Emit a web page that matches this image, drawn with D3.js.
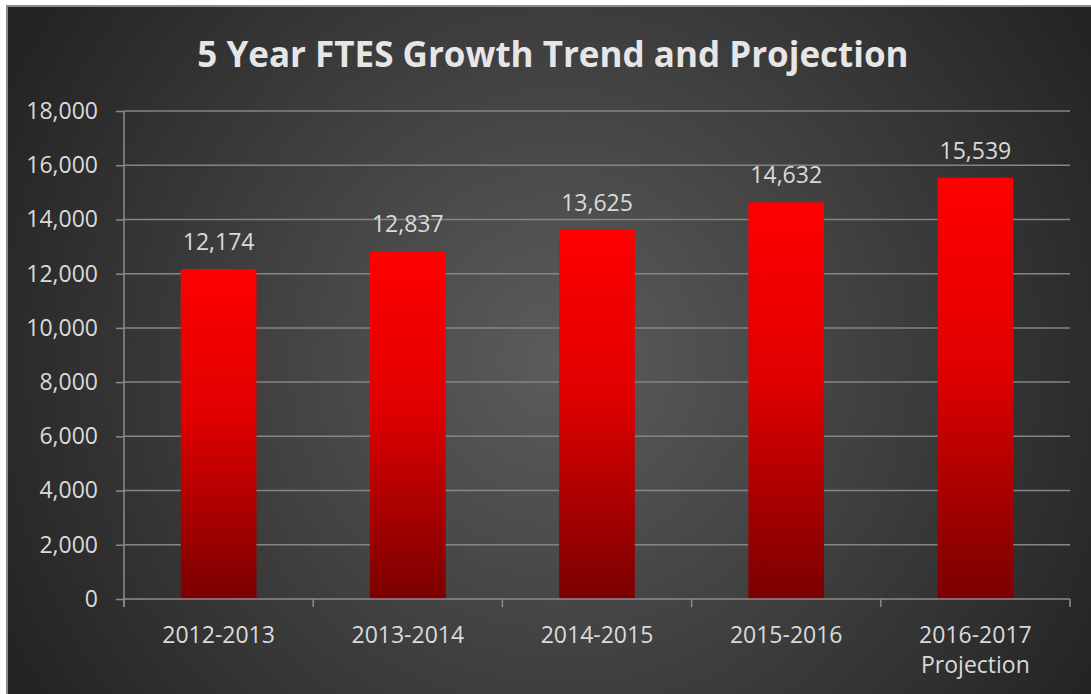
<!DOCTYPE html>
<html>
<head>
<meta charset="utf-8">
<script src="https://cdn.jsdelivr.net/npm/d3@7"></script>
<style>
  body { margin: 0; background: #fff; }
  svg { display: block; }
</style>
</head>
<body>
<div id="chart"></div>
<script>
// data
const categories = ['2012-2013', '2013-2014', '2014-2015', '2015-2016', '2016-2017\nProjection'];
const ftes = [12174, 12837, 13625, 14632, 15539];
const yTicks = [0, 2000, 4000, 6000, 8000, 10000, 12000, 14000, 16000, 18000];
const title = '5 Year FTES Growth Trend and Projection';

const width = 1091, height = 694;
const margin = {top: 111, right: 21, bottom: 95, left: 124};
const innerW = width - margin.left - margin.right,
      innerH = height - margin.top - margin.bottom;
const fontFam = '"Open Sans", sans-serif';

const svg = d3.select('#chart').append('svg')
  .attr('width', width)
  .attr('height', height);

const defs = svg.append('defs');

// dark background, lighter toward the middle
const bg = defs.append('radialGradient')
  .attr('id', 'bg')
  .attr('gradientUnits', 'userSpaceOnUse')
  .attr('cx', 560).attr('cy', 360).attr('r', 620);
bg.append('stop').attr('offset', '0%').attr('stop-color', '#5c5c5c');
bg.append('stop').attr('offset', '100%').attr('stop-color', '#242424');

// red bar fill, bright top -> dark bottom
const barGrad = defs.append('linearGradient')
  .attr('id', 'barGrad')
  .attr('x1', 0).attr('y1', 0).attr('x2', 0).attr('y2', 1);
barGrad.append('stop').attr('offset', '0%').attr('stop-color', '#ff0000');
barGrad.append('stop').attr('offset', '45%').attr('stop-color', '#e00000');
barGrad.append('stop').attr('offset', '100%').attr('stop-color', '#7a0000');

svg.append('rect')
  .attr('x', 7).attr('y', 6)
  .attr('width', width + 20).attr('height', height + 20)
  .attr('fill', 'url(#bg)')
  .attr('stroke', '#8c8c8c')
  .attr('stroke-width', 2);

svg.append('text')
  .attr('x', 553).attr('y', 67)
  .attr('text-anchor', 'middle')
  .style('font-family', fontFam)
  .style('font-weight', 'bold')
  .style('font-size', '35px')
  .style('fill', '#e6e6e6')
  .text(title);

const x = d3.scaleBand()
  .domain(categories)
  .range([0, innerW])
  .paddingInner(0.6)
  .paddingOuter(0.3);

const y = d3.scaleLinear()
  .domain([0, 18000])
  .range([innerH, 0]);

const g = svg.append('g')
  .attr('transform', `translate(${margin.left},${margin.top})`);

// gridlines
g.append('g')
  .selectAll('line')
  .data(yTicks.filter(d => d > 0))
  .join('line')
  .attr('x1', 0).attr('x2', innerW)
  .attr('y1', d => y(d)).attr('y2', d => y(d))
  .attr('stroke', '#858585')
  .attr('stroke-width', 1.5);

// y axis
const yAxis = g.append('g')
  .call(d3.axisLeft(y).tickValues(yTicks).tickFormat(d3.format(',')).tickSize(8).tickPadding(18));
yAxis.select('.domain').attr('stroke', '#8c8c8c').attr('stroke-width', 1.5)
  .attr('d', `M0,0V${innerH + 8}`);
yAxis.selectAll('.tick line').attr('stroke', '#8c8c8c').attr('stroke-width', 1.5);
yAxis.selectAll('.tick text')
  .style('font-family', fontFam)
  .style('font-size', '23px')
  .style('fill', '#dadada');

// bars
g.selectAll('.bar')
  .data(ftes)
  .join('rect')
  .attr('class', 'bar')
  .attr('x', (d, i) => x(categories[i]))
  .attr('y', d => y(d))
  .attr('width', x.bandwidth())
  .attr('height', d => innerH - y(d))
  .attr('fill', 'url(#barGrad)');

// value labels
g.selectAll('.val')
  .data(ftes)
  .join('text')
  .attr('class', 'val')
  .attr('x', (d, i) => x(categories[i]) + x.bandwidth() / 2)
  .attr('y', d => y(d) - 19)
  .attr('text-anchor', 'middle')
  .style('font-family', fontFam)
  .style('font-size', '23px')
  .style('fill', '#dadada')
  .text(d => d3.format(',')(d));

// x axis
const step = innerW / categories.length;
const xAxis = g.append('g').attr('transform', `translate(0,${innerH})`);
xAxis.append('line')
  .attr('x1', 0).attr('x2', innerW)
  .attr('stroke', '#8c8c8c').attr('stroke-width', 1.5);
xAxis.selectAll('.xtick')
  .data(d3.range(categories.length + 1))
  .join('line')
  .attr('class', 'xtick')
  .attr('x1', i => i * step).attr('x2', i => i * step)
  .attr('y1', 0).attr('y2', 8)
  .attr('stroke', '#8c8c8c').attr('stroke-width', 1.5);

const xl = xAxis.selectAll('.xlab')
  .data(categories)
  .join('text')
  .attr('class', 'xlab')
  .attr('text-anchor', 'middle')
  .attr('transform', d => `translate(${x(d) + x.bandwidth() / 2},44)`)
  .style('font-family', fontFam)
  .style('font-size', '23px')
  .style('fill', '#dadada');
xl.selectAll('tspan')
  .data(d => d.split('\n'))
  .join('tspan')
  .attr('x', 0)
  .attr('dy', (d, i) => i === 0 ? 0 : 30)
  .text(d => d);
</script>
</body>
</html>
